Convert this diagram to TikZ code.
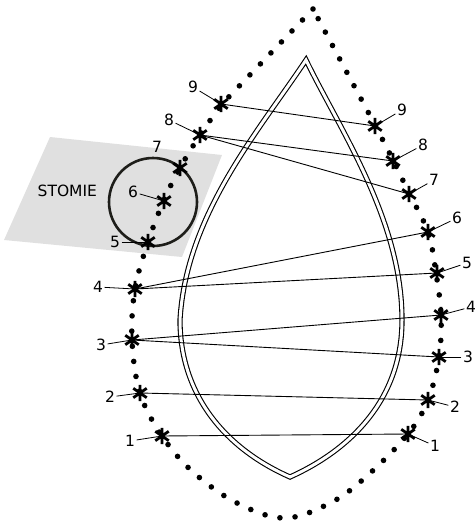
\documentclass[tikz,border=0pt]{standalone}
\usepackage{fontspec}
\setmainfont{DejaVu Sans}
\definecolor{patch}{RGB}{224,224,224}
\definecolor{ring}{RGB}{30,30,26}
\begin{document}
\begin{tikzpicture}[x=1pt,y=-1pt,
  astx/.style={circle,inner sep=0pt,minimum size=16pt},
  astline/.style={line width=2.8pt,line cap=butt},
  lab/.style={inner sep=1.5pt,font=\fontsize{15.5}{16}\selectfont},
  lead/.style={line width=0.8pt},
  conn/.style={line width=0.9pt},
  dotline/.style={line width=5.6pt,line cap=round,dash pattern=on 0pt off 15.2pt},
  drop/.style={line width=1.1pt,double=white,double distance=3pt,line join=miter}]
\useasboundingbox (0,0) rectangle (475,522);
% grey patch
\fill[patch] (50,137) -- (222,155) -- (182,257) -- (4,240) -- cycle;
\node[lab,anchor=west] (stomie) at (36,191) {STOMIE};
% dotted outline
\draw[dotline] (313,9) -- plot[smooth,tension=0.6] coordinates {(222,104) (200,135) (180,168) (164,200) (148,242) (135,289) (132,340) (140,393) (162,436) (193,472) (237,503) (285,518) (332,502) (368,475) (408,434) (428,400) (439,357) (441,315) (436,273) (428,232) (409,193) (393,160) (375,125)} -- cycle;
% inner drop
\draw[drop] (306,60) .. controls (258,132) and (186,215) .. (180,320)
  .. controls (180,392) and (222,447) .. (290,477)
  .. controls (350,450) and (402,400) .. (402,320)
  .. controls (402,220) and (340,130) .. cycle;
% stoma ring
\node[draw=ring,circle,line width=2.6pt,minimum size=88pt,inner sep=0pt] (stoma) at (153,202) {};
% star nodes
\node[astx] (L9) at (221,104) {};
\node[astx] (L8) at (200,135) {};
\node[astx] (L7) at (180,168) {};
\node[astx] (L6) at (164,201) {};
\node[astx] (L5) at (148,242) {};
\node[astx] (L4) at (135,289) {};
\node[astx] (L3) at (132,340) {};
\node[astx] (L2) at (140,393) {};
\node[astx] (L1) at (162,436) {};
\node[astx] (R9) at (375,126) {};
\node[astx] (R8) at (393,161) {};
\node[astx] (R7) at (409,194) {};
\node[astx] (R6) at (428,232) {};
\node[astx] (R5) at (437,273) {};
\node[astx] (R4) at (441,315) {};
\node[astx] (R3) at (439,357) {};
\node[astx] (R2) at (428,400) {};
\node[astx] (R1) at (408,434) {};
% connectors
\draw[conn] (L9.center) -- (R9.center);
\draw[conn] (L8.center) -- (R8.center);
\draw[conn] (L8.center) -- (R7.center);
\draw[conn] (L4.center) -- (R6.center);
\draw[conn] (L4.center) -- (R5.center);
\draw[conn] (L3.center) -- (R4.center);
\draw[conn] (L3.center) -- (R3.center);
\draw[conn] (L2.center) -- (R2.center);
\draw[conn] (L1.center) -- (R1.center);
% asterisks
\foreach \n in {L1,L2,L3,L4,L5,L6,L7,L8,L9,R1,R2,R3,R4,R5,R6,R7,R8,R9}{
  \draw[astline] (\n.90) -- (\n.270) (\n.35) -- (\n.215) (\n.145) -- (\n.325);
}
% labels left
\node[lab] (l9) at (193,87) {9};
\node[lab] (l8) at (169,120) {8};
\node[lab] (l7) at (157,147) {7};
\node[lab] (l6) at (133,192) {6};
\node[lab] (l5) at (115,242) {5};
\node[lab] (l4) at (98,287) {4};
\node[lab] (l3) at (101,345) {3};
\node[lab] (l2) at (110,397) {2};
\node[lab] (l1) at (130,441) {1};
% labels right
\node[lab] (r9) at (402,110) {9};
\node[lab] (r8) at (423,145) {8};
\node[lab] (r7) at (434,180) {7};
\node[lab] (r6) at (457,218) {6};
\node[lab] (r5) at (467,263) {5};
\node[lab] (r4) at (471,307) {4};
\node[lab] (r3) at (468,357) {3};
\node[lab] (r2) at (455,407) {2};
\node[lab] (r1) at (435,446) {1};
% leaders
\foreach \a/\b in {l9/L9,l8/L8,l6/L6,l5/L5,l4/L4,l3/L3,l2/L2,l1/L1,r9/R9,r8/R8,r7/R7,r6/R6,r5/R5,r4/R4,r3/R3,r2/R2,r1/R1}{
  \draw[lead] (\a) -- (\b.center);
}
\end{tikzpicture}
\end{document}
